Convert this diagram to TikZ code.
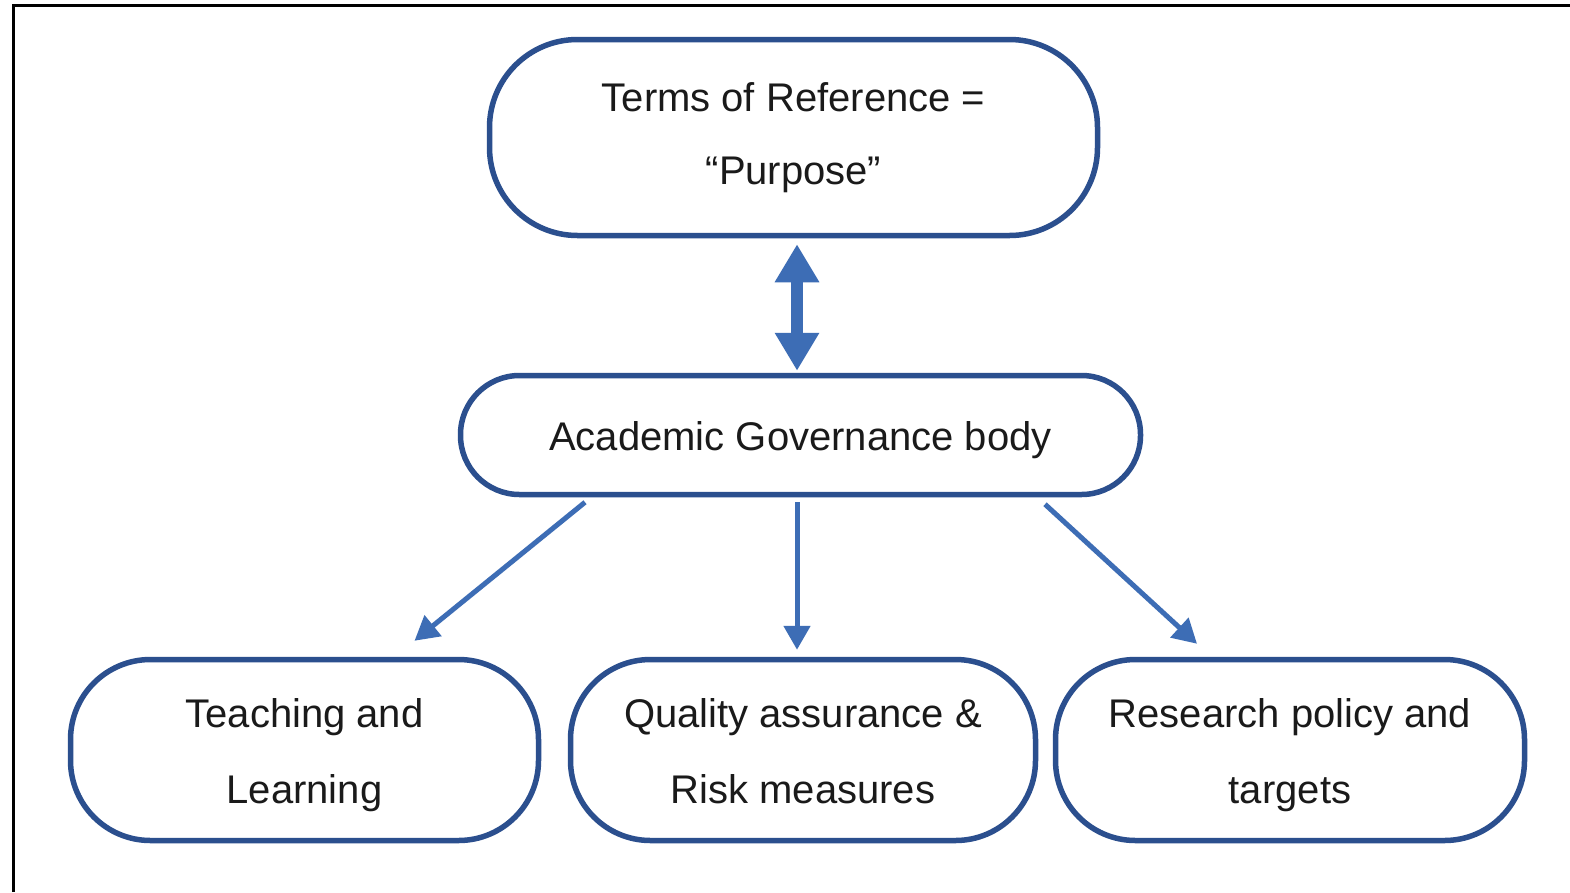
\documentclass[tikz,border=0pt]{standalone}
\usepackage{fontspec}
\setmainfont{Liberation Sans}
\usetikzlibrary{arrows.meta,calc}
\definecolor{boxline}{HTML}{2B4F8E}
\definecolor{arrowblue}{HTML}{3D6DB5}
\definecolor{txt}{HTML}{1A1A1A}
% centred lines set on struts, so the baselines sit evenly in the box
\newcommand\boxlines[1]{\begin{tabular}{@{}c@{}}#1\end{tabular}}
\begin{document}
\begin{tikzpicture}[x=1pt,y=-1pt,
  pill/.style={draw=boxline, line width=5.5pt, fill=white, inner sep=0pt,
    align=center, text=txt, font=\fontsize{40}{76}\selectfont},
  arr/.style={draw=arrowblue, line width=5pt,
    -{Triangle[length=24pt,width=26pt]}},
  dblarr/.style={draw=arrowblue, line width=12pt,
    {Triangle[length=38pt,width=42pt]}-{Triangle[length=38pt,width=42pt]}}]
  % canvas and frame edges
  \useasboundingbox (0,0) rectangle (1570,892);
  \fill[white] (0,0) rectangle (1570,892);
  \draw[black, line width=3pt] (13,892) -- (13,5) -- (1570,5);

  % boxes
  \node[pill, minimum width=608pt, minimum height=196pt, rounded corners=88pt]
    (tor) at (793.5,137.5) {Terms of Reference =\\[-3pt]``Purpose''};
  \node[pill, minimum width=680pt, minimum height=119pt, rounded corners=59pt]
    (agb) at (800.5,435) {\boxlines{Academic Governance body}};
  \node[pill, minimum width=468pt, minimum height=181pt, rounded corners=80pt]
    (tl) at (304.5,750) {\boxlines{Teaching and\\Learning}};
  \node[pill, minimum width=465pt, minimum height=181pt, rounded corners=80pt]
    (qa) at (803,750) {\boxlines{Quality assurance \&\\Risk measures}};
  \node[pill, minimum width=469pt, minimum height=181pt, rounded corners=80pt]
    (rp) at (1290,750) {\boxlines{Research policy and\\targets}};

  % connectors
  \draw[dblarr] ([xshift=3.5pt,yshift=-6pt]tor.south) -- ([xshift=-3.5pt,yshift=2pt]agb.north);
  \draw[arr] ([xshift=-215.5pt,yshift=-5pt]agb.south) -- ([xshift=110pt,yshift=16pt]tl.north);
  \draw[arr] ([xshift=-3.5pt,yshift=-5pt]agb.south) -- ([xshift=-6pt,yshift=7pt]qa.north);
  \draw[arr] ([xshift=244.5pt,yshift=-7pt]agb.south) -- ([xshift=-93pt,yshift=13pt]rp.north);
\end{tikzpicture}
\end{document}
